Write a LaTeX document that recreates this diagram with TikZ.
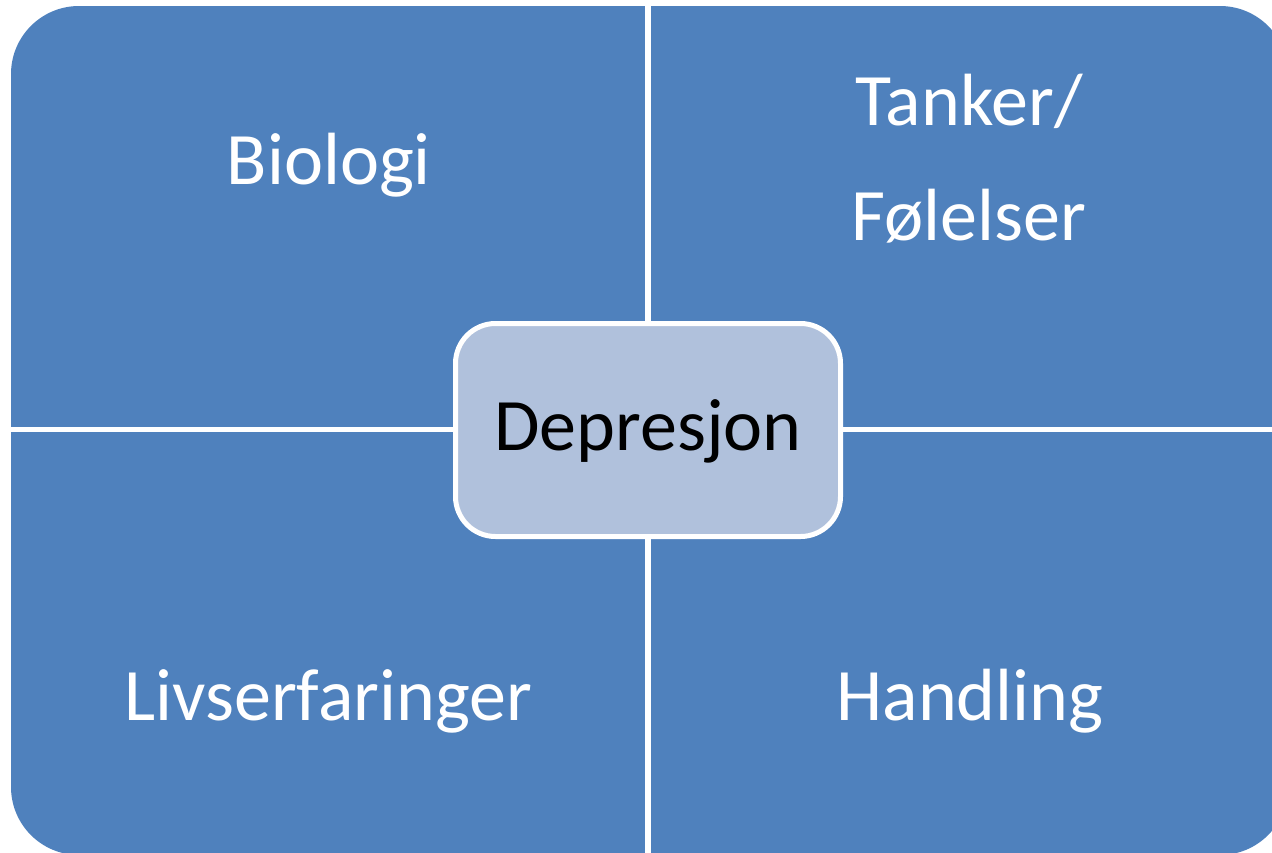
\documentclass[tikz,border=0pt]{standalone}
\usepackage{fontspec}
\setmainfont{Carlito}
\definecolor{quadblue}{HTML}{4F81BD}
\definecolor{centerfill}{HTML}{B0C1DC}
\begin{document}
\begin{tikzpicture}[x=1pt,y=-1pt,
  quadlabel/.style={text=white,font=\fontsize{74}{115}\selectfont,anchor=base,inner sep=0pt,align=center},
  divider/.style={white,line width=5.5pt},
  centerbox/.style={draw=white,line width=5pt,fill=centerfill,rounded corners=40pt,
     minimum width=385pt,minimum height=213pt,inner sep=0pt,
     font=\fontsize{74}{88}\selectfont,text=black}]
\useasboundingbox (0,0) rectangle (1272,852);
\clip (0,0) rectangle (1272,852);
\fill[quadblue,rounded corners=68pt] (11,6) rectangle (1288,855);
\coordinate (vtop) at (648,0);
\coordinate (vbot) at (648,860);
\coordinate (hleft) at (0,429.5);
\coordinate (hright) at (1300,429.5);
\draw[divider] (vtop) -- (vbot);
\draw[divider] (hleft) -- (hright);
\node[quadlabel] (bio) at (329,184) {Biologi};
\node[quadlabel] (tank) at (969,240) {Tanker/\\Følelser};
\node[quadlabel] (liv) at (328,720) {Livserfaringer};
\node[quadlabel] (hand) at (970,720) {Handling};
\node[centerbox] (dep) at (648,430) {};
\node[anchor=base,inner sep=0pt,font=\fontsize{74}{88}\selectfont] (deptext) at (648,450) {Depresjon};
\end{tikzpicture}
\end{document}
